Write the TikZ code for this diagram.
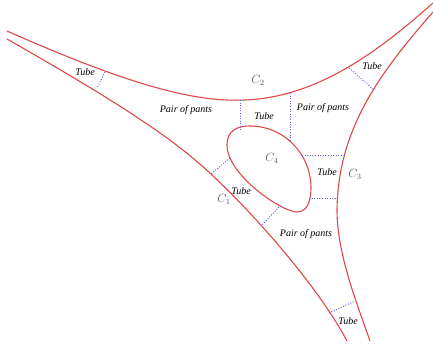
\documentclass[tikz,border=0pt]{standalone}
\usepackage{fontspec}
\setmainfont{Liberation Serif}
\usepackage{xcolor}
\usepackage{tikz}
\definecolor{curvec}{HTML}{E04848}
\definecolor{cutc}{HTML}{6060F4}
\definecolor{labelc}{HTML}{585858}
\tikzset{
  curveline/.style={draw=curvec, line width=1.1pt},
  cutedge/.style={draw=cutc, line width=1pt, dash pattern=on 1pt off 1.6pt},
  piecelabel/.style={font=\itshape, inner sep=1pt},
  curvelabel/.style={text=labelc, font=\fontsize{12}{14}\selectfont, inner sep=1pt},
}

\begin{document}
\begin{tikzpicture}[x=1pt, y=-1pt]
  \useasboundingbox (0,0) rectangle (433,345);
  % boundary curves
  \draw[curveline] (7,31) .. controls (140,90) and (200,102) .. (245,100)
    .. controls (320,97) and (382,48) .. (433,3);
  \draw[curveline] (7,39) .. controls (105,95) and (170,135) .. (212,175)
    .. controls (260,220) and (320,290) .. (347,341);
  \draw[curveline] (433,12) .. controls (378,75) and (338,130) .. (337,210)
    .. controls (337,255) and (358,306) .. (370,341);
  % inner curve
  \draw[curveline] (227,145) .. controls (227,130) and (238,126) .. (250,126)
    .. controls (284,126) and (311,154) .. (311,188)
    .. controls (311,203) and (306,212) .. (297,212)
    .. controls (282,212) and (227,175) .. (227,145) -- cycle;
  % cut ends
  \coordinate (a1) at (105,72);  \coordinate (a2) at (97,88);
  \coordinate (b1) at (240,100); \coordinate (b2) at (240,129);
  \coordinate (c1) at (290,93);  \coordinate (c2) at (290,141);
  \coordinate (d1) at (349,68);  \coordinate (d2) at (373,89);
  \coordinate (e1) at (302,155); \coordinate (e2) at (344,155);
  \coordinate (f1) at (309,198); \coordinate (f2) at (337,198);
  \coordinate (g1) at (230,158); \coordinate (g2) at (211,174);
  \coordinate (h1) at (279,207); \coordinate (h2) at (261,226);
  \coordinate (k1) at (329,313); \coordinate (k2) at (355,301);
  \foreach \u in {a,b,c,d,e,f,g,h,k}
    \draw[cutedge] (\u1) -- (\u2);
  % labels
  \node[piecelabel] (tubeA) at (85,72) {Tube};
  \node[piecelabel] (tubeB) at (264,116) {Tube};
  \node[piecelabel] (tubeC) at (372,66) {Tube};
  \node[piecelabel] (tubeD) at (327,172) {Tube};
  \node[piecelabel] (tubeE) at (241,191) {Tube};
  \node[piecelabel] (tubeF) at (348,321) {Tube};
  \node[piecelabel] (pantsA) at (186,110) {Pair of pants};
  \node[piecelabel] (pantsB) at (323,108) {Pair of pants};
  \node[piecelabel] (pantsC) at (306,234) {Pair of pants};
  \node[curvelabel] (cone) at (224,199) {$C_1$};
  \node[curvelabel] (ctwo) at (258,80) {$C_2$};
  \node[curvelabel] (cthree) at (355,174) {$C_3$};
  \node[curvelabel] (cfour) at (272,158) {$C_4$};
\end{tikzpicture}
\end{document}
